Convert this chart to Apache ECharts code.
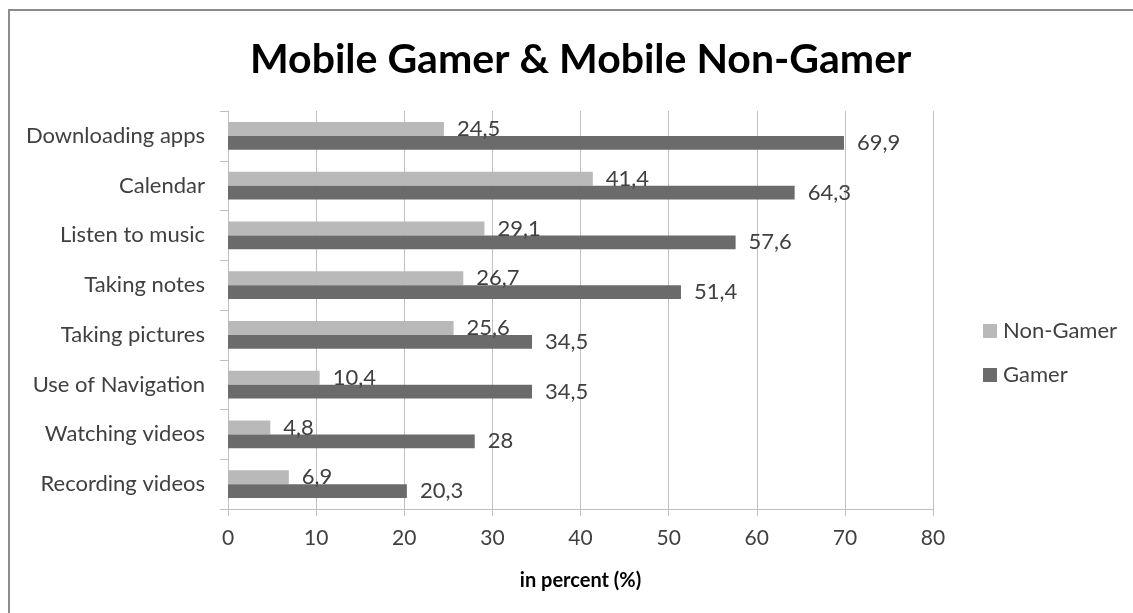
<!DOCTYPE html>
<html>
<head>
<meta charset="utf-8">
<script src="https://cdn.jsdelivr.net/npm/echarts@6/dist/echarts.min.js"></script>
<style>
html,body{margin:0;padding:0;background:#fff;}
#chart{width:1133px;height:613px;}
</style>
</head>
<body>
<div id="chart"></div>
<script>
const categories = ["Downloading apps","Calendar","Listen to music","Taking notes","Taking pictures","Use of Navigation","Watching videos","Recording videos"];
const nonGamer = [24.5, 41.4, 29.1, 26.7, 25.6, 10.4, 4.8, 6.9];
const gamer = [69.9, 64.3, 57.6, 51.4, 34.5, 34.5, 28, 20.3];
const xTicks = {min: 0, max: 80, interval: 10};
const titleText = "Mobile Gamer & Mobile Non-Gamer";
const axisName = "in percent (%)";

const FONT = "Lato";
const TXT = "#404040";
const chart = echarts.init(document.getElementById('chart'), null, {renderer: 'canvas'});
const fmt = p => String(p.value).replace('.', ',');
chart.setOption({
  animation: false,
  backgroundColor: '#fff',
  textStyle: {fontFamily: FONT},
  graphic: [{
    type: 'polyline', silent: true,
    shape: {points: [[9, 640], [9, 10], [1140, 10]]},
    style: {stroke: '#8c8c8c', lineWidth: 2, fill: null}
  }],
  title: {
    text: titleText, left: 245, top: 34,
    textStyle: {fontFamily: FONT, fontWeight: 'bold', fontSize: 41, color: '#000'}
  },
  legend: {
    orient: 'vertical', left: 983, top: 320, padding: 0,
    itemWidth: 14, itemHeight: 14, itemGap: 22,
    icon: 'rect',
    textStyle: {fontFamily: FONT, fontSize: 22, color: TXT, padding: [0, 0, 0, 1]},
    data: ['Non-Gamer', 'Gamer']
  },
  grid: {left: 228, right: 200, top: 111, bottom: 104, containLabel: false},
  xAxis: {
    type: 'value', min: xTicks.min, max: xTicks.max, interval: xTicks.interval,
    name: axisName, nameLocation: 'middle', nameGap: 62,
    nameTextStyle: {fontFamily: FONT, fontWeight: 'bold', fontSize: 20, color: '#000'},
    axisLine: {show: true, lineStyle: {color: '#bfbfbf', width: 1}},
    axisTick: {show: true, length: 7, lineStyle: {color: '#bfbfbf'}},
    axisLabel: {fontFamily: FONT, fontSize: 21, color: TXT, margin: 19},
    splitLine: {show: true, lineStyle: {color: '#bfbfbf', width: 1}}
  },
  yAxis: {
    type: 'category', data: categories, inverse: true,
    axisLine: {show: true, lineStyle: {color: '#bfbfbf', width: 1}},
    axisTick: {show: true, length: 8, lineStyle: {color: '#bfbfbf'}},
    axisLabel: {fontFamily: FONT, fontSize: 22, color: TXT, margin: 23}
  },
  series: [
    {
      name: 'Non-Gamer', type: 'bar', data: nonGamer,
      itemStyle: {color: '#b9b9b9'},
      barGap: '0%', barCategoryGap: '44%',
      label: {show: true, position: 'right', distance: 13, formatter: fmt,
        fontFamily: FONT, fontSize: 22, color: TXT}
    },
    {
      name: 'Gamer', type: 'bar', data: gamer,
      itemStyle: {color: '#6b6b6b'},
      barGap: '0%', barCategoryGap: '44%',
      label: {show: true, position: 'right', distance: 13, formatter: fmt,
        fontFamily: FONT, fontSize: 22, color: TXT}
    }
  ]
});
</script>
</body>
</html>
